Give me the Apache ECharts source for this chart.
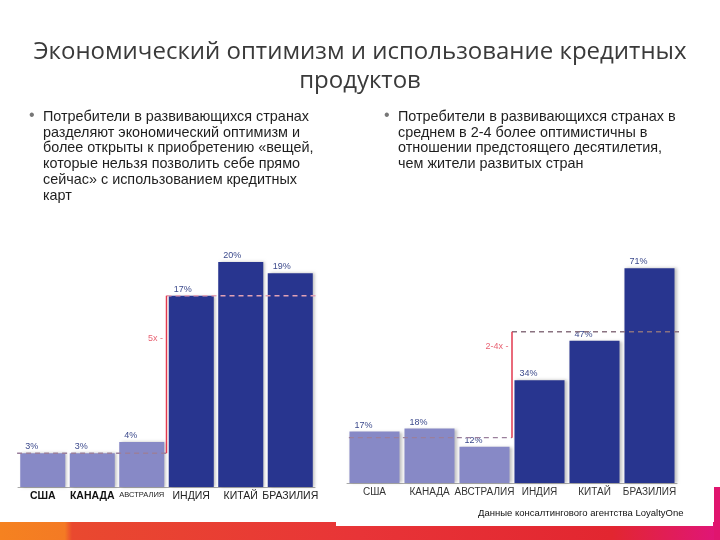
<!DOCTYPE html>
<html>
<head>
<meta charset="utf-8">
<script src="https://cdn.jsdelivr.net/npm/echarts/dist/echarts.min.js"></script>
<style>
  html, body { margin: 0; padding: 0; background: #fff; }
  #main { width: 720px; height: 540px; }
</style>
</head>
<body>
<div id="main"></div>
<script>
// страны (первые три - развитые)
const countries = ['США', 'КАНАДА', 'АВСТРАЛИЯ', 'ИНДИЯ', 'КИТАЙ', 'БРАЗИЛИЯ'];
const developedCount = 3;
// левый график: открытость к покупкам в кредит, %
const creditValues = [3, 3, 4, 17, 20, 19];
// правый график: оптимизм на десятилетие, %
const optimismValues = [17, 18, 12, 34, 47, 71];
// уровни пунктирных линий (развитые / развивающиеся)
const creditLevels = [3, 17];
const optimismLevels = [15, 50];
const creditRatio = '5x';
const optimismRatio = '2-4x';

const leftBullet = [
    'Потребители в развивающихся странах',
    'разделяют экономический оптимизм и',
    'более открыты к приобретению «вещей,',
    'которые нельзя позволить себе прямо',
    'сейчас» с использованием кредитных',
    'карт'
];
const rightBullet = [
    'Потребители в развивающихся странах в',
    'среднем в 2-4 более оптимистичны в',
    'отношении предстоящего десятилетия,',
    'чем жители развитых стран'
];

const lightColor = '#8789c6';
const darkColor = '#28358f';
const redColor = '#e2394f';

let chart = echarts.init(document.getElementById('main'));

function barData(values) {
    return values.map((v, i) => ({
        value: v,
        itemStyle: { color: i < developedCount ? lightColor : darkColor }
    }));
}

function stepSeries(gridIdx, levels, ratio, ratioY, xStart, xEnd) {
    const split = developedCount - 0.5;
    const common = {
        type: 'line',
        xAxisIndex: gridIdx * 2 + 1,
        yAxisIndex: gridIdx,
        showSymbol: false,
        clip: false,
        silent: true,
        z: 3
    };
    return [
        Object.assign({}, common, {
            data: [[xStart, levels[0]], [split, levels[0]]],
            lineStyle: { type: [5, 4], width: 1.3, color: '#9a7f9c' }
        }),
        Object.assign({}, common, {
            data: [[split, levels[1]], [xEnd, levels[1]]],
            lineStyle: { type: [5, 4], width: 1.3, color: gridIdx === 0 ? '#e2a2b4' : '#8a7280' }
        }),
        Object.assign({}, common, {
            data: [[split, levels[0]], [split, levels[1]]],
            lineStyle: { type: 'solid', width: 1.5, color: redColor }
        }),
        {
            type: 'scatter',
            xAxisIndex: gridIdx * 2 + 1,
            yAxisIndex: gridIdx,
            symbolSize: 1,
            itemStyle: { color: 'transparent' },
            silent: true,
            clip: false,
            data: [[split, ratioY]],
            label: {
                show: true,
                position: 'left',
                distance: 3,
                formatter: ratio + ' -',
                color: redColor,
                fontSize: 9,
                fontFamily: 'Liberation Sans, sans-serif'
            }
        }
    ];
}

function barSeries(gridIdx, values) {
    return {
        type: 'bar',
        xAxisIndex: gridIdx * 2,
        yAxisIndex: gridIdx,
        barCategoryGap: '9%',
        data: barData(values),
        itemStyle: {
            shadowBlur: 3,
            shadowColor: 'rgba(0,0,0,0.25)',
            shadowOffsetX: 2,
            shadowOffsetY: 0
        },
        label: {
            show: true,
            position: [5, -11],
            formatter: '{c}%',
            fontSize: 9,
            color: '#3c4a8c',
            fontFamily: 'Liberation Sans, sans-serif'
        },
        z: 2
    };
}

const leftLabel = {
    interval: 0,
    fontSize: 10.5,
    color: '#222',
    margin: 4,
    fontFamily: 'Liberation Sans, sans-serif',
    formatter: (v, i) => {
        if (i < 2) return '{b|' + v + '}';
        if (i === 2) return '{s|' + v + '}';
        return v;
    },
    rich: {
        b: { fontSize: 10.5, fontWeight: 'bold', color: '#111', fontFamily: 'Liberation Sans, sans-serif' },
        s: { fontSize: 7.5, color: '#222', fontFamily: 'Liberation Sans, sans-serif' }
    }
};

const rightLabel = {
    interval: 0,
    fontSize: 10,
    color: '#333',
    margin: 4,
    fontFamily: 'Liberation Sans, sans-serif'
};

const bulletFont = '14.4px "Liberation Sans", sans-serif';

function bulletText(lines, x) {
    return [
        { type: 'text', left: x - 14, top: 108, style: { text: '•', font: '16px "Liberation Sans"', fill: '#777' } },
        { type: 'text', left: x, top: 109, style: { text: lines.join('\n'), font: bulletFont, lineHeight: 15.8, fill: '#1e1e1e' } }
    ];
}

let option = {
    animation: false,
    title: {
        text: 'Экономический оптимизм и использование кредитных\nпродуктов',
        left: 'center',
        top: 33,
        textStyle: {
            fontFamily: 'Open Sans, sans-serif',
            fontWeight: 'normal',
            fontSize: 24,
            lineHeight: 29,
            color: '#3a3a3a',
            align: 'center'
        }
    },
    grid: [
        { left: 18, top: 262, width: 297, height: 225 },
        { left: 347, top: 241, width: 330, height: 242 }
    ],
    xAxis: [
        {
            type: 'category', gridIndex: 0, data: countries,
            axisLine: { lineStyle: { color: '#aaa', width: 1 } },
            axisTick: { show: false },
            axisLabel: leftLabel
        },
        { type: 'value', gridIndex: 0, min: -0.5, max: 5.5, show: false },
        {
            type: 'category', gridIndex: 1, data: countries,
            axisLine: { lineStyle: { color: '#aaa', width: 1 } },
            axisTick: { show: false },
            axisLabel: rightLabel
        },
        { type: 'value', gridIndex: 1, min: -0.5, max: 5.5, show: false }
    ],
    yAxis: [
        { type: 'value', gridIndex: 0, min: 0, max: 20, show: false },
        { type: 'value', gridIndex: 1, min: 0, max: 80, show: false }
    ],
    series: [
        barSeries(0, creditValues),
        ...stepSeries(0, creditLevels, creditRatio, 13.2, -0.7, 5.7),
        barSeries(1, optimismValues),
        ...stepSeries(1, optimismLevels, optimismRatio, 45, -0.63, 5.8)
    ],
    graphic: [
        ...bulletText(leftBullet, 43),
        ...bulletText(rightBullet, 398),
        {
            type: 'rect', left: 0, top: 522, z: -1,
            shape: { width: 720, height: 18 },
            style: {
                fill: new echarts.graphic.LinearGradient(0, 0, 1, 0, [
                    { offset: 0, color: '#f58220' },
                    { offset: 0.09, color: '#f47a24' },
                    { offset: 0.1, color: '#e9492f' },
                    { offset: 0.5, color: '#e83437' },
                    { offset: 0.85, color: '#e22630' },
                    { offset: 1, color: '#e0157a' }
                ])
            }
        },
        {
            type: 'rect', left: 336, top: 500, z: 0,
            shape: { width: 377, height: 26 },
            style: { fill: '#fff' }
        },
        {
            type: 'rect', left: 714, top: 487, z: 0,
            shape: { width: 6, height: 53 },
            style: { fill: '#e0156e' }
        },
        {
            type: 'text', left: 478, top: 508, z: 5,
            style: {
                text: 'Данные консалтингового агентства LoyaltyOne',
                font: '9.5px "Liberation Sans", sans-serif',
                fill: '#111'
            }
        }
    ]
};

chart.setOption(option);
</script>
</body>
</html>
